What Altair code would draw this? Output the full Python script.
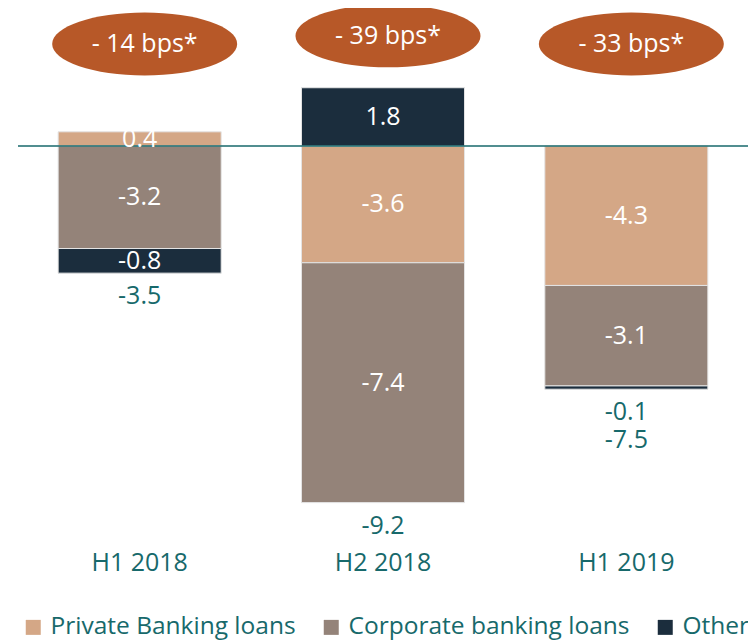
import altair as alt
import pandas as pd

# ---- data ----
periods = ["H1 2018", "H2 2018", "H1 2019"]
series = ["Private Banking loans", "Corporate banking loans", "Other"]
private_banking = [0.44, -3.6, -4.3]
corporate_banking = [-3.16, -7.4, -3.1]
other = [-0.76, 1.8, -0.1]
bps_labels = ["- 14 bps*", "- 39 bps*", "- 33 bps*"]
bps_height = [3.15, 3.4, 3.15]

colors = ["#d4a786", "#948379", "#1b2d3d"]
TEAL = "#17696b"
ORANGE = "#b75828"
FONT = "Open Sans"
SMALL = 0.3

rows = []
for i, p in enumerate(periods):
    for j, (name, vals) in enumerate(zip(series, [private_banking, corporate_banking, other])):
        rows.append({"period": p, "series": name, "order": j, "value": vals[i],
                     "label": f"{vals[i]:.1f}"})
df = pd.DataFrame(rows)

below_rows = []
for i, p in enumerate(periods):
    vals = [private_banking[i], corporate_banking[i], other[i]]
    bottom = sum(v for v in vals if v < 0)
    line = 0
    for v in vals:
        if abs(v) < SMALL:
            below_rows.append({"period": p, "bottom": bottom, "line": line, "text": f"{v:.1f}"})
            line += 1
    below_rows.append({"period": p, "bottom": bottom, "line": line, "text": f"{sum(vals):.1f}"})
below = pd.DataFrame(below_rows)

bps = pd.DataFrame({"period": periods, "label": bps_labels, "h": bps_height})

yscale = alt.Scale(domain=[-12.4, 4.26], nice=False, zero=False)
X = alt.X(
    "period:N",
    sort=periods,
    title=None,
    scale=alt.Scale(paddingInner=0.33, paddingOuter=0.165),
    axis=alt.Axis(labelAngle=0, domain=False, ticks=False, labelFontSize=25,
                  labelFont=FONT, labelColor=TEAL, labelPadding=2),
)

bars = alt.Chart(df).mark_bar(stroke="#e4e4e4", strokeWidth=1).encode(
    x=X,
    y=alt.Y("value:Q", stack="zero", scale=yscale, axis=None),
    color=alt.Color(
        "series:N",
        scale=alt.Scale(domain=series, range=colors),
        legend=alt.Legend(
            orient="none", legendX=3, legendY=607, direction="horizontal", columns=3,
            title=None, symbolType="square", symbolSize=225, symbolStrokeWidth=0,
            labelFontSize=24.5, labelFont=FONT, labelColor=TEAL, columnPadding=23,
            labelOffset=5, labelLimit=0,
        ),
    ),
    order=alt.Order("order:Q", sort="ascending"),
)

zero_rule = alt.Chart(pd.DataFrame({"zero": [0]})).mark_rule(color=TEAL, strokeWidth=1.5).encode(
    y=alt.Y("zero:Q", scale=yscale, axis=None)
)

inner_labels = (
    alt.Chart(df)
    .transform_stack(stack="value", groupby=["period"], as_=["v0", "v1"],
                     sort=[alt.SortField("order", order="ascending")])
    .transform_calculate(mid="(datum.v0 + datum.v1) / 2")
    .transform_filter(f"abs(datum.value) >= {SMALL}")
    .mark_text(color="white", fontSize=25, font=FONT, baseline="middle")
    .encode(
        x=X,
        y=alt.Y("mid:Q", stack=None, scale=yscale, axis=None),
        text="label:N",
    )
)

below0 = alt.Chart(below).transform_filter("datum.line == 0").mark_text(
    color=TEAL, fontSize=25, font=FONT, baseline="middle", dy=23
).encode(x=X, y=alt.Y("bottom:Q", stack=None, scale=yscale, axis=None), text="text:N")

below1 = alt.Chart(below).transform_filter("datum.line == 1").mark_text(
    color=TEAL, fontSize=25, font=FONT, baseline="middle", dy=51
).encode(x=X, y=alt.Y("bottom:Q", stack=None, scale=yscale, axis=None), text="text:N")

ELLIPSE = ("M -1 0 C -1 -0.1878 -0.5523 -0.34 0 -0.34 C 0.5523 -0.34 1 -0.1878 1 0 "
           "C 1 0.1878 0.5523 0.34 0 0.34 C -0.5523 0.34 -1 0.1878 -1 0 Z")

ellipses = alt.Chart(bps).mark_point(
    shape=ELLIPSE, size=185 * 185, filled=True, color=ORANGE, opacity=1, xOffset=5
).encode(x=X, y=alt.Y("h:Q", scale=yscale, axis=None))

ellipse_text = alt.Chart(bps).mark_text(
    color="white", fontSize=25, font=FONT, baseline="middle", xOffset=5
).encode(x=X, y=alt.Y("h:Q", scale=yscale, axis=None), text="label:N")

chart = (
    alt.layer(bars, zero_rule, inner_labels, below0, below1, ellipses, ellipse_text)
    .properties(
        width=730, height=540,
        autosize=alt.AutoSizeParams(type="none"),
        padding={"left": 10, "top": 0, "right": 0, "bottom": 92},
    )
    .configure_view(stroke=None)
)

chart.save("out.html", embed_options={"renderer": "svg", "actions": False})
